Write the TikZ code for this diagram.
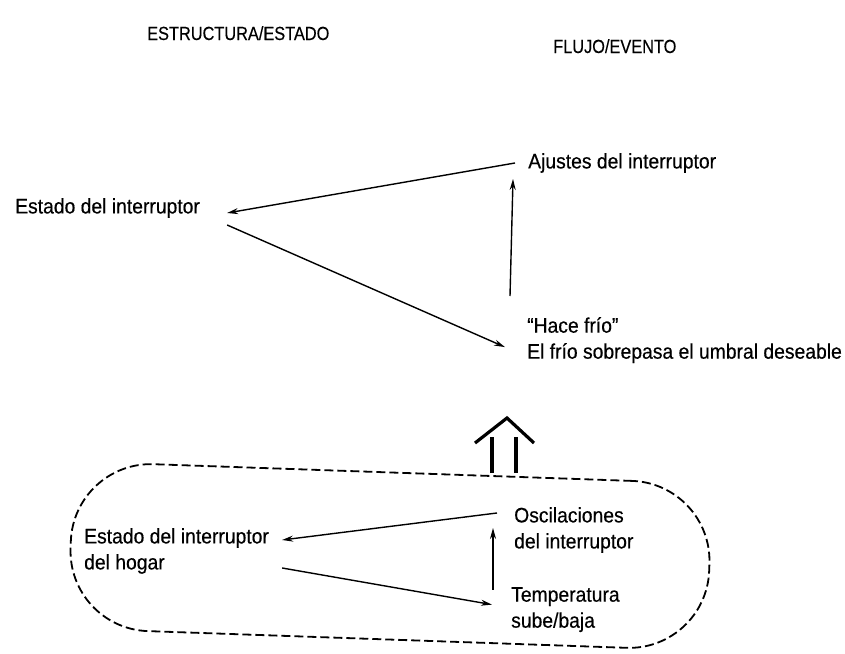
\documentclass[tikz,border=0pt]{standalone}
\usepackage{fontspec}
\setmainfont{Liberation Sans}[FakeStretch=0.92,FakeBold=0.4]
\newfontfamily\titulofuente{Liberation Sans}[FakeStretch=0.86,FakeBold=0.3]
\usetikzlibrary{calc,arrows.meta}

\begin{document}
\begin{tikzpicture}[x=1pt,y=-1pt,>={Stealth[length=11pt,width=6pt]}]
        \tikzstyle{texto}=[inner sep=0pt,anchor=north west,align=left,font=\fontsize{21}{26}\selectfont]
        \tikzstyle{titulo}=[inner sep=0pt,anchor=base west,font=\titulofuente\fontsize{19}{22}\selectfont]
        \tikzstyle{flecha}=[->,line width=1.4pt]
        \useasboundingbox (0,0) rectangle (845,653);
        \node[titulo] (estructura) at (147,40) {ESTRUCTURA/ESTADO};
        \node[titulo] (flujo) at (553,53) {FLUJO/EVENTO};
        % arriba
        \node[texto] (estado) at (15,198) {Estado del interruptor};
        \node[texto] (ajustes) at (528,153) {Ajustes del interruptor};
        \node[texto] (frio) at (527,317) {“Hace frío”\\El frío sobrepasa el umbral deseable};
        \draw[flecha] ($(ajustes.west)+(-13,0)$) -- ($(estado.east)+(27,5)$);
        \draw[flecha] ($(estado.east)+(27,17)$) -- ($(frio.west)+(-22,7)$);
        \draw[flecha] ($(frio.north west)+(-17,-21)$) -- ($(ajustes.south west)+(-15,6)$);
        % abajo
        \node[draw,dash pattern=on 9pt off 4pt,line width=1.8pt,rounded corners=80pt,
              minimum width=639pt,minimum height=167pt,rotate=-2] (hogar) at (390,556) {};
        \node[texto] (estadohogar) at (84,528) {Estado del interruptor\\del hogar};
        \node[texto] (oscilaciones) at (514,507) {Oscilaciones\\del interruptor};
        \node[texto] (temperatura) at (511,587) {Temperatura\\sube/baja};
        \draw[flecha] ($(oscilaciones.west)+(-17,-17)$) -- ($(estadohogar.east)+(13,-11)$);
        \draw[flecha] ($(estadohogar.east)+(13,17)$) -- ($(temperatura.west)+(-19,-5)$);
        \draw[flecha] ($(temperatura.west)+(-18,-20)$) -- ($(oscilaciones.west)+(-21,-2)$);
        % doble flecha
        \coordinate (subida) at (504,473);
        \draw[line width=3.2pt] ($(subida)+(-12,0)$) -- ++(0,-36);
        \draw[line width=3.2pt] ($(subida)+(12,0)$) -- ++(0,-36);
        \draw[line width=3.2pt,line join=miter] ($(subida)+(-29,-30)$) -- ($(subida)+(3,-55)$) -- ($(subida)+(30,-30)$);
\end{tikzpicture}
\end{document}
